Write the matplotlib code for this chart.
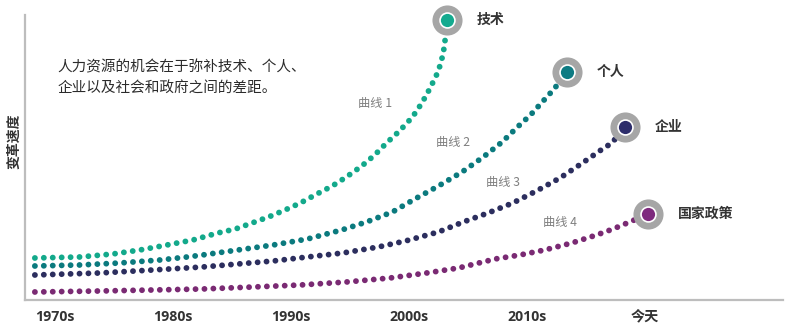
import matplotlib.pyplot as plt

plt.rcParams['font.family'] = ['Noto Sans CJK SC', 'DejaVu Sans']

# 变革速度曲线（横轴：年份，纵轴：变化指数）
tech_x = [1968.3, 1972.1, 1974.9, 1977.2, 1978.6, 1981.7, 1983.8, 1985.3, 1986.7, 1988.1,
          1989.5, 1990.8, 1992.2, 1993.5, 1994.7, 1996.0, 1997.1, 1998.1, 1999.2, 2000.3,
          2001.1, 2001.8, 2002.5, 2002.9, 2003.1, 2003.2]
tech_y = [42, 43, 46, 50, 53, 60, 67, 71, 77, 83, 90, 97, 106, 114, 123, 134, 145, 157, 169, 183,
          197, 212, 229, 246, 263, 280]

person_x = [1968.3, 1972.1, 1975.5, 1978.9, 1981.2, 1982.5, 1985.5, 1988.5, 1991.4, 1994.3,
            1996.4, 1998.6, 2000.5, 2002.5, 2004.5, 2006.3, 2007.9, 2009.2, 2010.3, 2011.3,
            2012.3, 2013.4]
person_y = [34, 35, 37, 40, 43, 45, 50, 55, 61, 70, 78, 88, 101, 114, 128, 143, 158, 173, 185, 198,
            211, 228]

company_x = [1968.3, 1973.8, 1978.3, 1982.5, 1985.5, 1988.5, 1991.4, 1994.4, 1997.4, 1999.7,
             2002.5, 2004.6, 2006.7, 2008.8, 2010.8, 2012.8, 2014.7, 2016.4, 2017.2, 2018.3]
company_y = [25, 27, 30, 33, 36, 39, 43, 47, 53, 59, 68, 78, 87, 97, 109, 122, 137, 151, 157, 173]

policy_x = [1968.3, 1973.8, 1978.3, 1982.5, 1986.8, 1990.8, 1994.7, 1998.4, 2001.5, 2004.2,
            2007.3, 2009.4, 2011.5, 2013.8, 2015.9, 2017.3, 2018.7, 2020.3]
policy_y = [8, 9, 10, 11, 13, 15, 18, 22, 27, 32, 41, 45, 50, 57, 65, 71, 78, 86]

names = ['技术', '个人', '企业', '国家政策']
curve_labels = ['曲线 1', '曲线 2', '曲线 3', '曲线 4']
curve_label_x = [1997.1, 2003.7, 2008.0, 2012.8]
curve_label_y = [196, 157, 117, 77]

tick_pos = [1970, 1980, 1990, 2000, 2010, 2020]
tick_labels = ['1970s', '1980s', '1990s', '2000s', '2010s', '今天']

line_colors = ['#13A98B', '#0B7A7E', '#2C2E5E', '#7A2A73']
dot_colors = ['#14AA8F', '#0E7B83', '#2D2D6B', '#7E2A7E']

fig = plt.figure(figsize=(7.9, 3.31), dpi=100)
ax = fig.add_axes([0.0316, 0.0937, 0.9594, 0.861])

series = [(tech_x, tech_y), (person_x, person_y), (company_x, company_y), (policy_x, policy_y)]
for (xs, ys), lc, dc, name in zip(series, line_colors, dot_colors, names):
    ax.plot(xs, ys, color=lc, lw=4.2, linestyle=(0, (0.01, 1.52)),
            dash_capstyle='round', solid_capstyle='round', zorder=2, clip_on=False)
    ax.scatter(xs[-1], ys[-1], s=470, color='#A6A6A6', zorder=3, linewidths=0, clip_on=False)
    ax.scatter(xs[-1], ys[-1], s=115, color=dc, edgecolors='white', linewidths=1.2,
               zorder=4, clip_on=False)
    ax.annotate(name, (xs[-1], ys[-1]), xytext=(21.5, 0), textcoords='offset points',
                ha='left', va='center', fontsize=10, fontweight='bold', color='#333333')

for lab, lx, ly in zip(curve_labels, curve_label_x, curve_label_y):
    ax.text(lx, ly, lab, ha='center', va='center', fontsize=8.8, color='#7F7F7F')

ax.text(1970.2, 233, '人力资源的机会在于弥补技术、个人、', ha='left', va='center',
        fontsize=10.5, color='#2B2B2B')
ax.text(1970.2, 212, '企业以及社会和政府之间的差距。', ha='left', va='center',
        fontsize=10.5, color='#2B2B2B')

ax.set_xlim(1967.46, 2031.69)
ax.set_ylim(0, 285)
ax.set_xticks(tick_pos)
ax.set_xticklabels(tick_labels, family=['Open Sans', 'Noto Sans CJK SC'],
                   fontsize=10.2, fontweight='bold', color='#333333')
ax.set_yticks([])
ax.tick_params(axis='x', length=0, pad=7)

for side in ['top', 'right']:
    ax.spines[side].set_visible(False)
for side in ['left', 'bottom']:
    ax.spines[side].set_color('#BDBDBD')
    ax.spines[side].set_linewidth(1.6)

fig.text(0.0177, 0.574, '变革速度', rotation=90, ha='center', va='center',
         fontsize=10, fontweight='bold', color='#333333')

fig.savefig('out.png', dpi=100)
